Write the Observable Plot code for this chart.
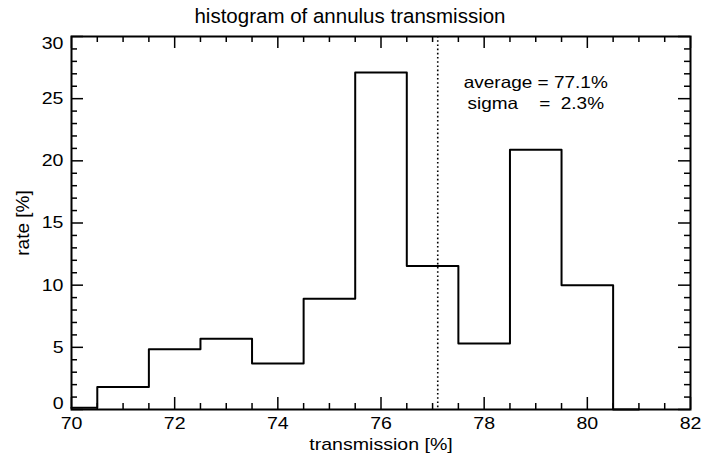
<!DOCTYPE html>
<html>
<head>
<meta charset="utf-8">
<script src="https://cdn.jsdelivr.net/npm/d3@7"></script>
<script src="https://cdn.jsdelivr.net/npm/@observablehq/plot@0.6"></script>
<style>
  body { margin: 0; background: white; font-family: "Liberation Sans", Arial, sans-serif; }
  #wrap { position: relative; width: 704px; height: 463px; }
  #title { position: relative; height: 30px; width: 704px; }
  #title span { position: absolute; left: 350px; top: 6px; font-size: 20.5px; line-height: 20px; white-space: nowrap;
                transform: translateX(-50%); color: black; }
  svg { display: block; }
</style>
</head>
<body>
<div id="wrap">
  <div id="title"><span>histogram of annulus transmission</span></div>
  <div id="chart"></div>
</div>
<script>
// ---- data ----
const binCenters = [70, 71, 72, 73, 74, 75, 76, 77, 78, 79, 80, 81];
const rates      = [0.15, 1.8, 4.85, 5.7, 3.7, 8.9, 27.1, 11.55, 5.3, 20.9, 10.0, 0];
const meanValue = 77.1;
const sigmaValue = 2.3;
const xMajorTicks = [70, 72, 74, 76, 78, 80, 82];
const xMinorTicks = [70.5, 71, 71.5, 72.5, 73, 73.5, 74.5, 75, 75.5, 76.5, 77, 77.5, 78.5, 79, 79.5, 80.5, 81, 81.5];
const yMajorTicks = [0, 5, 10, 15, 20, 25, 30];
const yMinorTicks = [1,2,3,4,6,7,8,9,11,12,13,14,16,17,18,19,21,22,23,24,26,27,28,29];
const xLabel = "transmission [%]";
const yLabel = "rate [%]";

const histRows = binCenters.map((c, i) => ({center: c, rate: rates[i]}));

const W = 704, H = 433, mT = 6, mR = 14, mB = 54, mL = 71;
const innerW = W - mL - mR, innerH = H - mT - mB;
const major = 12, minor = 6;

const tickStyle = {stroke: "black", strokeWidth: 1.5};

const chart = Plot.plot({
  width: W, height: H,
  marginTop: mT, marginRight: mR, marginBottom: mB, marginLeft: mL,
  x: {domain: [70, 82], axis: null},
  y: {domain: [0, 30], axis: null},
  style: {fontFamily: '"Liberation Sans", Arial, sans-serif', fontSize: "17px", color: "black", background: "white"},
  marks: [
    // ticks (inward, all four sides)
    Plot.ruleX(xMajorTicks, {x: d => d, insetTop: innerH - major, ...tickStyle}),
    Plot.ruleX(xMajorTicks, {x: d => d, insetBottom: innerH - major, ...tickStyle}),
    Plot.ruleX(xMinorTicks, {x: d => d, insetTop: innerH - minor, ...tickStyle}),
    Plot.ruleX(xMinorTicks, {x: d => d, insetBottom: innerH - minor, ...tickStyle}),
    Plot.ruleY(yMajorTicks, {y: d => d, insetRight: innerW - major, ...tickStyle}),
    Plot.ruleY(yMajorTicks, {y: d => d, insetLeft: innerW - major, ...tickStyle}),
    Plot.ruleY(yMinorTicks, {y: d => d, insetRight: innerW - minor, ...tickStyle}),
    Plot.ruleY(yMinorTicks, {y: d => d, insetLeft: innerW - minor, ...tickStyle}),
    // mean line
    Plot.ruleX([meanValue], {x: d => d, stroke: "black", strokeWidth: 1.6, strokeDasharray: "1.6,2.6"}),
    // histogram
    Plot.line(histRows, {x: "center", y: "rate", curve: "step", stroke: "black", strokeWidth: 2}),
    Plot.frame({stroke: "black", strokeWidth: 2}),
    // tick labels
    Plot.text(xMajorTicks, {x: d => d, frameAnchor: "bottom", dy: 19, text: d => String(d), fill: "black"}),
    Plot.text(yMajorTicks.filter(v => v > 0 && v < 30), {y: d => d, frameAnchor: "left", textAnchor: "end", dx: -8, text: d => String(d), fill: "black"}),
    Plot.text(yMajorTicks.filter(v => v === 30), {y: d => d, frameAnchor: "left", textAnchor: "end", dx: -8, dy: 7.5, text: d => String(d), fill: "black"}),
    Plot.text(yMajorTicks.filter(v => v === 0), {y: d => d, frameAnchor: "left", textAnchor: "end", dx: -8, dy: -5.5, text: d => String(d), fill: "black"}),
    // axis titles
    Plot.text([xLabel], {frameAnchor: "bottom", dy: 40, fill: "black"}),
    Plot.text([yLabel], {frameAnchor: "left", textAnchor: "middle", rotate: -90, dx: -49, fill: "black", fontSize: 19}),
    // annotation
    Plot.text([`average = ${meanValue}%\nsigma\u00a0\u00a0\u00a0\u00a0=\u00a0\u00a0${sigmaValue}%`],
      {x: 79, y: 25.55, lineHeight: 1.28, fontSize: 16.5, fill: "black"})
  ]
});
document.getElementById("chart").appendChild(chart);

// horizontally widen horizontal labels to match the reference's wide lettering
const STRETCH = 1.15;
chart.querySelectorAll("text").forEach(t => {
  const tr = t.getAttribute("transform") || "";
  if (tr.includes("rotate") || t.textContent === yLabel) return;
  const spans = t.querySelectorAll("tspan");
  const targets = spans.length ? Array.from(spans) : [t];
  targets.forEach(el => {
    const len = el.getComputedTextLength();
    if (len > 0) {
      el.setAttribute("textLength", (len * STRETCH).toFixed(2));
      el.setAttribute("lengthAdjust", "spacingAndGlyphs");
    }
  });
});
</script>
</body>
</html>
